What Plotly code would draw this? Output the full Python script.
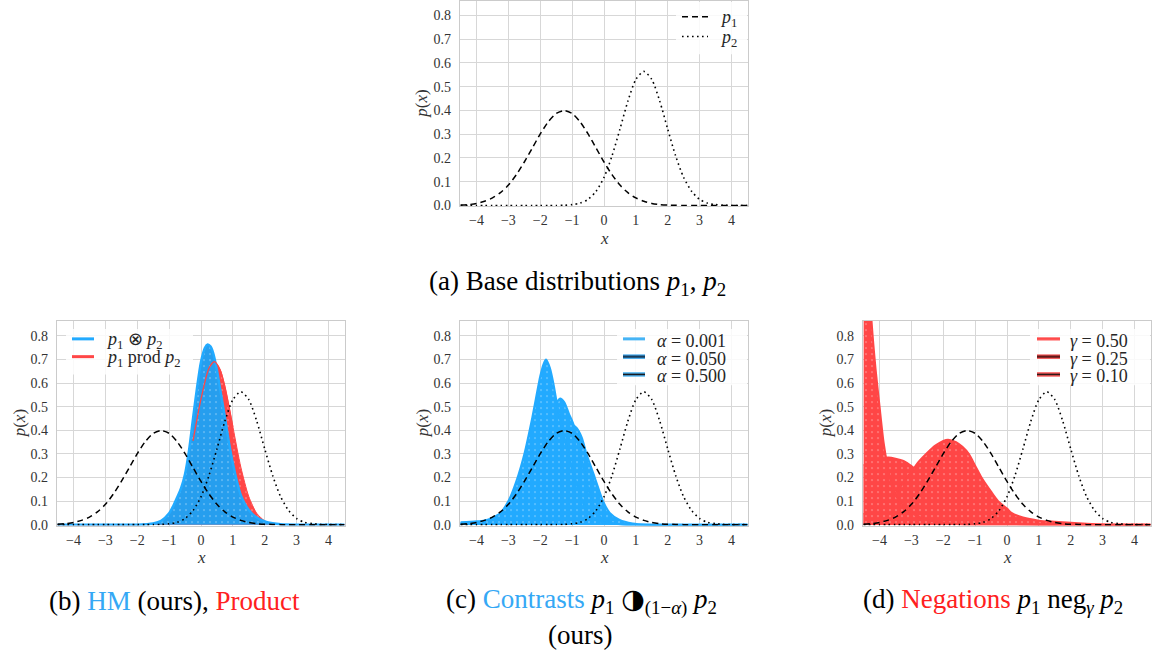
import plotly.graph_objects as go

# ---------------------------------------------------------------- data
# shared grid for the two base densities
X_GRID = [-4.5, -4.25, -4.0, -3.75, -3.5, -3.25, -3.0, -2.75, -2.5, -2.25,
          -2.0, -1.75, -1.5, -1.25, -1.0, -0.75, -0.5, -0.25, 0.0, 0.25,
          0.5, 0.75, 1.0, 1.25, 1.5, 1.75, 2.0, 2.25, 2.5, 2.75,
          3.0, 3.25, 3.5, 3.75, 4.0, 4.25, 4.5]
P1 = [0.002, 0.004, 0.009, 0.018, 0.032, 0.054, 0.086, 0.130, 0.183, 0.242,
      0.301, 0.352, 0.387, 0.399, 0.387, 0.352, 0.301, 0.242, 0.183, 0.130,
      0.086, 0.054, 0.032, 0.018, 0.009, 0.004, 0.002, 0.001, 0.0, 0.0,
      0.0, 0.0, 0.0, 0.0, 0.0, 0.0, 0.0]
P2 = [0.0, 0.0, 0.0, 0.0, 0.0, 0.0, 0.0, 0.0, 0.0, 0.0,
      0.0, 0.0, 0.0003, 0.001, 0.004, 0.010, 0.026, 0.060, 0.118, 0.208,
      0.321, 0.439, 0.530, 0.564, 0.530, 0.439, 0.321, 0.208, 0.118, 0.060,
      0.026, 0.010, 0.004, 0.001, 0.0003, 0.0, 0.0]

# (b) harmonic-mean composition and the normalised product
HM_X = [-4.5, -2.0, -1.5, -1.25, -1.0, -0.875, -0.75, -0.625, -0.5, -0.375,
        -0.25, -0.125, 0.0, 0.125, 0.21, 0.3, 0.375, 0.5, 0.625, 0.75,
        0.875, 1.0, 1.125, 1.25, 1.5, 1.75, 2.0, 2.25, 2.5, 3.0, 4.5]
HM_Y = [0.0, 0.0, 0.005, 0.016, 0.048, 0.078, 0.115, 0.155, 0.215, 0.315,
        0.45, 0.58, 0.69, 0.75, 0.764, 0.755, 0.73, 0.655, 0.555, 0.455,
        0.35, 0.26, 0.185, 0.125, 0.062, 0.03, 0.014, 0.006, 0.002, 0.0, 0.0]
PROD_X = [-4.5, -2.0, -1.5, -1.25, -1.0, -0.75, -0.5, -0.25, 0.0, 0.25, 0.42,
          0.6, 0.75, 1.0, 1.25, 1.5, 1.75, 2.0, 2.25, 2.5, 3.0, 4.5]
PROD_Y = [0.0, 0.0003, 0.003, 0.011, 0.034, 0.090, 0.196, 0.355, 0.533, 0.663, 0.691,
          0.657, 0.585, 0.415, 0.244, 0.119, 0.048, 0.016, 0.0045, 0.001, 0.0, 0.0]

# (c) contrasts for three alpha values
ALPHAS = ["0.001", "0.050", "0.500"]
CA_X = [-4.5, -4.0, -3.75, -3.5, -3.25, -3.0, -2.75, -2.5, -2.25, -2.0, -1.9,
        -1.82, -1.7, -1.59, -1.46, -1.3, -1.12, -0.92, -0.68, -0.5, -0.25, 0.0,
        0.5, 1.0, 4.5]
CA_Y = [0.010, 0.014, 0.018, 0.03, 0.05, 0.10, 0.185, 0.30, 0.455, 0.63, 0.68,
        0.70, 0.665, 0.60, 0.50, 0.40, 0.30, 0.20, 0.10, 0.05, 0.02, 0.008,
        0.002, 0.0, 0.0]
CB_X = [-4.5, -4.0, -3.5, -3.0, -2.75, -2.5, -2.25, -2.0, -1.75, -1.55, -1.38,
        -1.25, -1.1, -0.97, -0.78, -0.6, -0.38, -0.1, 0.2, 0.6, 1.0, 4.5]
CB_Y = [0.004, 0.007, 0.02, 0.06, 0.10, 0.16, 0.24, 0.33, 0.42, 0.50, 0.535,
        0.52, 0.47, 0.43, 0.32, 0.21, 0.10, 0.03, 0.008, 0.001, 0.0, 0.0]
CC_X = [-4.5, -4.0, -3.6, -3.2, -2.8, -2.3, -1.9, -1.5, -1.2, -1.0, -0.86,
        -0.7, -0.55, -0.29, -0.03, 0.18, 0.49, 0.9, 1.3, 4.5]
CC_Y = [0.005, 0.01, 0.02, 0.05, 0.10, 0.20, 0.30, 0.38, 0.415, 0.425, 0.41,
        0.37, 0.30, 0.20, 0.10, 0.05, 0.02, 0.005, 0.0, 0.0]

# (d) negations for three gamma values
GAMMAS = ["0.50", "0.25", "0.10"]
NA_X = [-4.5, -4.0, -3.5, -3.0, -2.75, -2.5, -2.25, -2.0, -1.85, -1.6, -1.4,
        -1.2, -1.0, -0.8, -0.5, -0.28, 0.0, 0.14, 0.5, 1.0, 1.5, 2.0, 2.5,
        3.0, 3.5, 4.5]
NA_Y = [0.045, 0.08, 0.135, 0.225, 0.27, 0.305, 0.335, 0.355, 0.36, 0.35, 0.33,
        0.30, 0.25, 0.20, 0.14, 0.10, 0.068, 0.05, 0.03, 0.017, 0.012, 0.008, 0.004,
        0.001, 0.0, 0.0]
NB_X = [-4.5, -4.25, -4.0, -3.72, -3.5, -3.25, -3.0, -2.6, -2.2, -1.9, -1.4,
        -0.8, 0.0, 1.0, 4.5]
NB_Y = [0.25, 0.27, 0.28, 0.285, 0.28, 0.27, 0.248, 0.20, 0.14, 0.10, 0.05,
        0.02, 0.005, 0.0, 0.0]
NC_X = [-4.5, -4.375, -4.25, -4.125, -4.0, -3.875, -3.75, -3.56, -3.25, -3.0,
        -2.5, -2.0, -1.5, -1.0, 4.5]
NC_Y = [1.6, 1.15, 0.86, 0.66, 0.50, 0.35, 0.25, 0.14, 0.08, 0.05,
        0.02, 0.008, 0.002, 0.0, 0.0]

X_TICKS = [-4, -3, -2, -1, 0, 1, 2, 3, 4]
Y_TICKS = [0.0, 0.1, 0.2, 0.3, 0.4, 0.5, 0.6, 0.7, 0.8]

# ---------------------------------------------------------------- layout helpers
W, H = 1154, 663


def px(x):
    return x / W


def py(y):
    return 1 - y / H


SERIF = "Liberation Serif"
BLUE = "rgb(34,170,255)"
BLUE_FILL = "rgb(38,158,238)"
RED = "rgb(255,70,70)"

# pixel boxes of the four panels: left, right, top, bottom, y max
PANELS = {
    "": (460, 748, 0, 208, 0.860),
    "2": (57, 345, 324, 531, 0.863),
    "3": (460, 748, 324, 531, 0.863),
    "4": (863, 1151, 324, 531, 0.863),
}

fig = go.Figure()
layout = dict(
    width=W, height=H, margin=dict(l=0, r=0, t=0, b=0),
    paper_bgcolor="white", plot_bgcolor="white", showlegend=False,
)
axis_common = dict(
    showgrid=True, gridcolor="#d7d7d7", gridwidth=1, showline=True, mirror=True,
    linecolor="#cbcbcb", linewidth=1.3, zeroline=False, ticks="",
    tickfont=dict(family=SERIF, size=14, color="#333333"), fixedrange=True,
)
for key, (l, r, t, b, ytop) in PANELS.items():
    layout["xaxis" + key] = dict(
        axis_common, domain=[px(l), px(r)], anchor="y" + key, range=[-4.52, 4.52],
        tickvals=X_TICKS, ticktext=[str(v).replace("-", "\u2212") for v in X_TICKS],
        ticklabelstandoff=1,
    )
    layout["yaxis" + key] = dict(
        axis_common, domain=[py(b), py(t)], anchor="x" + key, range=[-0.004, ytop],
        tickvals=Y_TICKS, ticktext=[f"{v:.1f}" for v in Y_TICKS], ticklabelstandoff=5,
    )
fig.update_layout(**layout)

PATTERN = dict(shape=".", fgcolor="white", fgopacity=0.28, size=6, solidity=0.1)


def fill_curve(key, x, y, fill, line, width=2.0):
    fig.add_trace(go.Scatter(
        x=x, y=y, mode="lines", fill="tozeroy", fillcolor=fill,
        fillpattern=dict(PATTERN, bgcolor=fill),
        line=dict(color=line, width=width, shape="spline", smoothing=0.7),
        xaxis="x" + key, yaxis="y" + key, hoverinfo="skip",
    ))


def line_curve(key, x, y, color, width, dash=None):
    fig.add_trace(go.Scatter(
        x=x, y=y, mode="lines",
        line=dict(color=color, width=width, dash=dash, shape="spline", smoothing=0.7),
        xaxis="x" + key, yaxis="y" + key, hoverinfo="skip",
    ))


def base_curves(key):
    line_curve(key, X_GRID, P1, "black", 1.5, "6px,4px")
    line_curve(key, X_GRID, P2, "black", 1.6, "1.6px,3.4px")


# (a) base distributions
base_curves("")

# (b) HM versus product: product underneath, HM on top, product outline over it
fill_curve("2", PROD_X, PROD_Y, RED, RED, 1.0)
fill_curve("2", HM_X, HM_Y, BLUE_FILL, BLUE, 2.5)
core = [(x, y) for x, y in zip(PROD_X, PROD_Y) if y >= 0.3]
line_curve("2", [c[0] for c in core], [c[1] for c in core], RED, 1.3)
base_curves("2")

# (c) contrasts
for cx, cy in [(CC_X, CC_Y), (CB_X, CB_Y), (CA_X, CA_Y)]:
    fill_curve("3", cx, cy, BLUE, BLUE, 2.0)
base_curves("3")

# (d) negations
for nx, ny in [(NB_X, NB_Y), (NA_X, NA_Y), (NC_X, NC_Y)]:
    fill_curve("4", nx, ny, RED, RED, 2.0)
base_curves("4")

# ---------------------------------------------------------------- axis titles
shapes = []
annotations = []


def note(x, y, text, font, **kw):
    annotations.append(dict(
        x=px(x), y=py(y), xref="paper", yref="paper", text=text, showarrow=False,
        xanchor=kw.pop("xanchor", "center"), yanchor="middle", font=font, **kw,
    ))


TITLE_FONT = dict(family=SERIF, size=17, color="#333333")
for key, (l, r, t, b, _) in PANELS.items():
    note((l + r) / 2, b + 32, "<i>x</i>", TITLE_FONT)
    note(l - 38, (t + b) / 2, "<i>p</i>(<i>x</i>)", TITLE_FONT, textangle=-90)


# ---------------------------------------------------------------- legends
LEG_FONT = dict(family=SERIF, size=18, color="#262626")


def legend(box, rows, x_line, x_text):
    x0, x1, y0, y1 = box
    shapes.append(dict(type="rect", xref="paper", yref="paper", layer="above",
                       x0=px(x0), x1=px(x1), y0=py(y1), y1=py(y0),
                       fillcolor="rgba(255,255,255,0.85)", line=dict(width=0)))
    for y, strokes, label in rows:
        for color, width, dash in strokes:
            shapes.append(dict(type="line", xref="paper", yref="paper", layer="above",
                               x0=px(x_line[0]), x1=px(x_line[1]), y0=py(y), y1=py(y),
                               line=dict(color=color, width=width, dash=dash)))
        note(x_text, y + 2, label, LEG_FONT, xanchor="left")


P1_TXT = "<i>p</i><sub>1</sub>"
P2_TXT = "<i>p</i><sub>2</sub>"

legend((676, 747, 1, 54),
       [(16, [("black", 1.5, "6px,4px")], P1_TXT),
        (36, [("black", 1.6, "1.6px,3.4px")], P2_TXT)],
       (682, 708), 718)

legend((66, 193, 332, 378),
       [(342, [(BLUE, 3, None)], P1_TXT + " \u2297 " + P2_TXT),
        (360, [(RED, 3, None)], P1_TXT + " prod " + P2_TXT)],
       (72, 94), 104)

legend((617, 747, 332, 389),
       [(342, [("rgb(70,180,245)", 3, None)], "<i>\u03b1</i> = " + ALPHAS[0]),
        (360, [("rgb(60,165,235)", 4.5, None), ("rgb(26,60,90)", 2.2, None)],
         "<i>\u03b1</i> = " + ALPHAS[1]),
        (378, [("rgb(80,180,240)", 4.5, None), ("rgb(25,25,30)", 1.6, None)],
         "<i>\u03b1</i> = " + ALPHAS[2])],
       (623, 645), 655)

legend((1030, 1150, 332, 389),
       [(342, [("rgb(255,120,120)", 3.5, None), ("rgb(255,70,70)", 1.6, None)],
         "<i>\u03b3</i> = " + GAMMAS[0]),
        (360, [("rgb(240,80,80)", 4.5, None), ("rgb(95,25,25)", 2.2, None)],
         "<i>\u03b3</i> = " + GAMMAS[1]),
        (378, [("rgb(250,90,90)", 4.5, None), ("rgb(45,25,25)", 1.6, None)],
         "<i>\u03b3</i> = " + GAMMAS[2])],
       (1037, 1060), 1068)

# ---------------------------------------------------------------- captions
CAP = dict(family=SERIF, size=27, color="black")
HM_BLUE = "#35a8f5"
CAP_RED = "#ff2020"
HALF = "<span style='font-family:DejaVu Sans'>\u25d1</span>"
captions = [
    (577, 285, "(a) Base distributions " + P1_TXT + ", " + P2_TXT),
    (174, 607, f"(b) <span style='color:{HM_BLUE}'>HM</span> (ours), "
               f"<span style='color:{CAP_RED}'>Product</span>"),
    (581, 607, f"(c) <span style='color:{HM_BLUE}'>Contrasts</span> " + P1_TXT
               + " " + HALF + "<sub>(1\u2212<i>\u03b1</i>)</sub> " + P2_TXT),
    (580, 642, "(ours)"),
    (993, 607, f"(d) <span style='color:{CAP_RED}'>Negations</span> " + P1_TXT
               + " neg<sub><i>\u03b3</i></sub> " + P2_TXT),
]
for cx, cy, text in captions:
    note(cx, cy, text, CAP)

fig.update_layout(shapes=shapes, annotations=annotations)
fig.write_html("out.html")
